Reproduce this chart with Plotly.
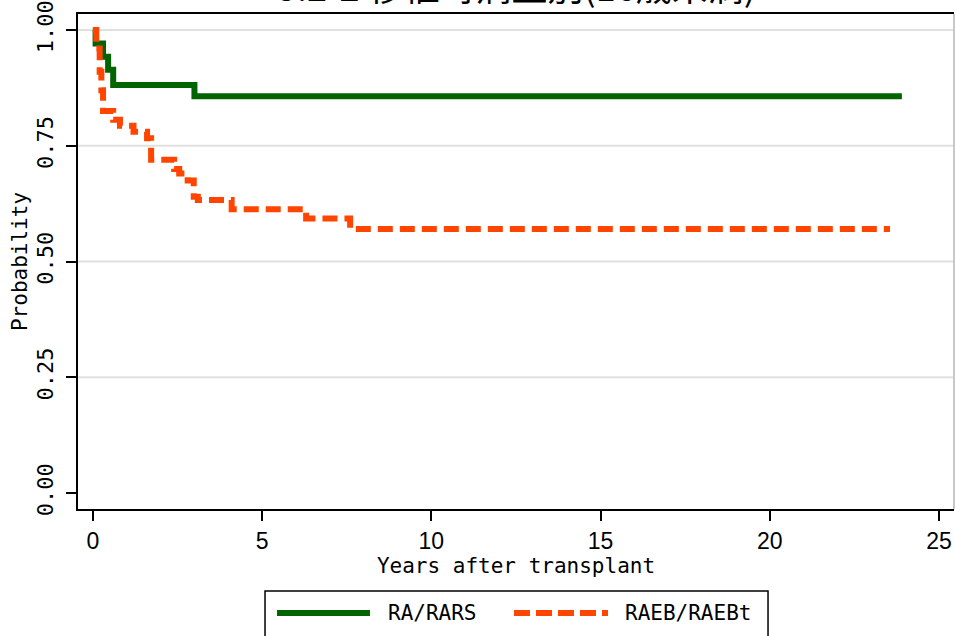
import plotly.graph_objects as go

# ---- data ----
ra_t = [0, 0.08, 0.3, 0.45, 0.6, 3.0, 23.9]
ra_p = [1.0, 0.971, 0.942, 0.914, 0.881, 0.857, 0.857]

raeb_t = [0, 0.1, 0.2, 0.25, 0.3, 0.6, 0.8, 1.2, 1.6, 1.72, 2.4, 2.55, 2.8, 2.98, 3.1, 4.1, 6.3, 7.6, 23.55]
raeb_p = [1.0, 0.96, 0.91, 0.87, 0.825, 0.806, 0.793, 0.78, 0.766, 0.72, 0.70, 0.69, 0.675, 0.64, 0.633, 0.613, 0.593, 0.570, 0.570]

series_names = ["RA/RARS", "RAEB/RAEBt"]
x_ticks = [0, 5, 10, 15, 20, 25]
y_ticks = [0, 0.25, 0.5, 0.75, 1.0]
y_ticktext = ["0.00", "0.25", "0.50", "0.75", "1.00"]
grid_vals = [0.25, 0.5, 0.75, 1.0]
title_text = "5.2-2 移植時病型別(16歳未満)"

GREEN = "#006400"
ORANGE = "#FF4500"
MONO = "DejaVu Sans Mono"

fig = go.Figure()
fig.add_trace(go.Scatter(x=ra_t, y=ra_p, mode="lines", line_shape="hv",
                         line=dict(color=GREEN, width=6), name=series_names[0],
                         showlegend=False))
fig.add_trace(go.Scatter(x=raeb_t, y=raeb_p, mode="lines", line_shape="hv",
                         line=dict(color=ORANGE, width=6, dash="15px,7px"),
                         name=series_names[1], showlegend=False))

shapes = []
for g in grid_vals:
    shapes.append(dict(type="line", xref="paper", x0=0, x1=1, yref="y", y0=g, y1=g,
                       line=dict(color="#e0e0e0", width=2), layer="below"))
# right border (light)
shapes.append(dict(type="line", xref="paper", x0=1, x1=1, yref="paper", y0=0, y1=1,
                   line=dict(color="#c8c8c8", width=2)))
# custom legend box
shapes.append(dict(type="rect", xref="paper", yref="paper", x0=0.2135, x1=0.7877,
                   y0=-0.27, y1=-0.1657, line=dict(color="black", width=1.5),
                   fillcolor="white"))
shapes.append(dict(type="line", xref="paper", yref="paper", x0=0.2272, x1=0.3333,
                   y0=-0.2101, y1=-0.2101, line=dict(color=GREEN, width=6)))
shapes.append(dict(type="line", xref="paper", yref="paper", x0=0.4977, x1=0.6050,
                   y0=-0.2101, y1=-0.2101, line=dict(color=ORANGE, width=6, dash="16px,6px")))

annotations = [
    dict(text=series_names[0], xref="paper", yref="paper", x=0.3516, y=-0.2101,
         xanchor="left", yanchor="middle", showarrow=False,
         font=dict(family=MONO, size=21, color="black")),
    dict(text=series_names[1], xref="paper", yref="paper", x=0.6221, y=-0.2101,
         xanchor="left", yanchor="middle", showarrow=False,
         font=dict(family=MONO, size=21, color="black")),
    dict(text=title_text, xref="paper", yref="paper", x=0.5, y=1.004,
         xanchor="center", yanchor="bottom", showarrow=False, borderpad=0,
         font=dict(family="Noto Sans CJK JP", size=36, color="black")),
]

fig.update_layout(
    width=955, height=636,
    margin=dict(l=78, r=1, t=14, b=127),
    paper_bgcolor="white", plot_bgcolor="white",
    shapes=shapes, annotations=annotations,
    showlegend=False,
    xaxis=dict(range=[-0.44, 25.44], tickvals=x_ticks, ticks="outside", ticklen=10,
               tickwidth=1.5, tickcolor="black", showline=True, linecolor="black",
               linewidth=2, mirror=True, showgrid=False, zeroline=False,
               automargin=False,
               tickfont=dict(family="Liberation Sans", size=23, color="black"),
               title=dict(text="Years after transplant", standoff=4,
                          font=dict(family=MONO, size=21, color="black"))),
    yaxis=dict(range=[-0.0346, 1.0346], tickvals=y_ticks, ticktext=y_ticktext,
               tickangle=-90, ticks="outside", ticklen=10, tickwidth=1.5,
               tickcolor="black", showline=True, linecolor="black", linewidth=2,
               showgrid=False, zeroline=False, automargin=False,
               ticklabelstandoff=4,
               tickfont=dict(family=MONO, size=22, color="black"),
               title=dict(text="Probability", standoff=0,
                          font=dict(family=MONO, size=21, color="black"))),
)

fig.write_html("out.html", config={"displayModeBar": False},
               post_script="document.body.style.margin='0';document.body.style.padding='0';")
